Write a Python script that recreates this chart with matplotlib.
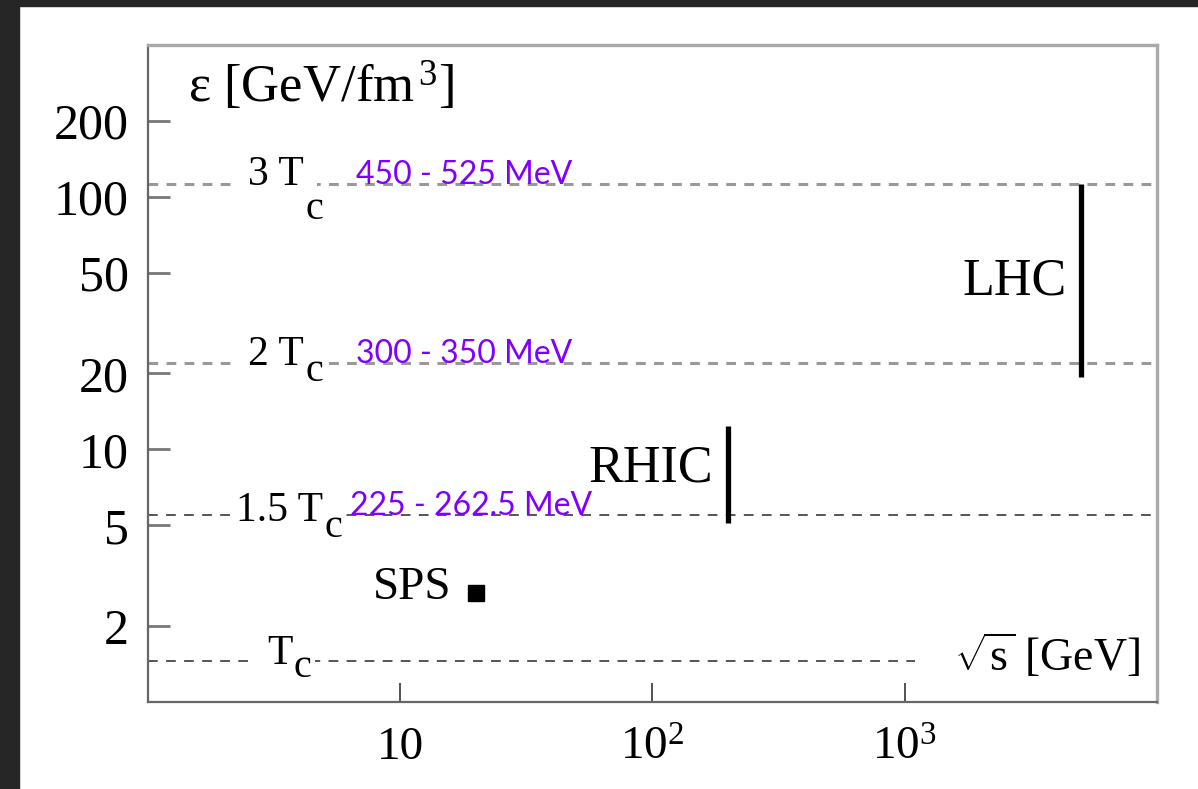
import matplotlib.pyplot as plt
from matplotlib.patches import Rectangle

# energy density thresholds in units of Tc
level_names = ['T', '1.5 T', '2 T', '3 T']
level_eps = [1.45, 5.5, 21.9, 113]
level_temps = ['', '225 - 262.5 MeV', '300 - 350 MeV', '450 - 525 MeV']
level_xmax = [1100, 1e4, 1e4, 1e4]

# colliders: sqrt(s) [GeV] and the reached energy density [GeV/fm^3]
sps_sqrts = 20
sps_eps = 2.7
rhic_sqrts = 200
rhic_eps = [5.1, 12.4]
lhc_sqrts = 5000
lhc_eps = [19.3, 113]

yticks = [2, 5, 10, 20, 50, 100, 200]
xticks = [10, 100, 1000]
xticklabels = ['10', '$10^2$', '$10^3$']

# where each "n T" label ends and the subscript c starts, and text nudges (pt)
label_x = [3.73, 4.95, 4.16, 4.16]
label_up = [5, 3, 6, 6]
sub_up = [-5, -9, -6, -19]
temp_x = [6.7, 6.3, 6.7, 6.7]

plt.rcParams['font.family'] = 'serif'
plt.rcParams['font.serif'] = ['Liberation Serif']
plt.rcParams['mathtext.fontset'] = 'custom'
plt.rcParams['mathtext.rm'] = 'Liberation Serif'
plt.rcParams['mathtext.it'] = 'Liberation Serif:italic'
plt.rcParams['lines.scale_dashes'] = False

fig = plt.figure(figsize=(11.98, 7.89), dpi=100)
ax = fig.add_axes([0.1235, 0.1106, 0.8423, 0.8324])
ax.set_xscale('log')
ax.set_yscale('log')
ax.set_xlim(1, 1e4)
ax.set_ylim(1, 400)

white = dict(facecolor='white', edgecolor='none', pad=3)

# dashed threshold lines with their labels
for i, (name, eps, temp, xmax) in enumerate(zip(level_names, level_eps, level_temps, level_xmax)):
    thick = eps > 10
    ax.hlines(eps, 1, xmax, colors='#999999' if thick else '#555555',
              linewidth=2.2 if thick else 1.4, linestyles=(0, (7, 6)), zorder=1)
    ax.annotate(name, (label_x[i], eps), xytext=(0, label_up[i]), textcoords='offset points',
                ha='right', va='center', fontsize=30, zorder=3,
                bbox=dict(facecolor='white', edgecolor='none', pad=9 if i != 1 else 1))
    ax.annotate('c', (label_x[i], eps), xytext=(1, sub_up[i]), textcoords='offset points',
                ha='left', va='center', fontsize=29, zorder=3, bbox=white)
    if temp:
        ax.text(temp_x[i], eps, temp, ha='left', va='baseline', color='#8000ff',
                fontsize=23, family='Lato', zorder=4)

# colliders
ax.plot([sps_sqrts], [sps_eps], 's', color='black', markersize=11)
ax.annotate('SPS', (sps_sqrts, sps_eps), xytext=(-18, 4), textcoords='offset points',
            ha='right', va='center', fontsize=34)
ax.vlines(rhic_sqrts, rhic_eps[0], rhic_eps[1], colors='black', linewidth=3.8)
ax.annotate('RHIC', (rhic_sqrts, 8.4), xytext=(-11, 0), textcoords='offset points',
            ha='right', va='center', fontsize=37.5)
ax.vlines(lhc_sqrts, lhc_eps[0], lhc_eps[1], colors='black', linewidth=3.8)
ax.annotate('LHC', (lhc_sqrts, 46.4), xytext=(-10, 0), textcoords='offset points',
            ha='right', va='center', fontsize=37.5)

# axis titles inside the frame
ax.text(0.04, 0.936, r'ε [GeV/fm$^{\,3}$]', transform=ax.transAxes,
        ha='left', va='center', fontsize=38)
ax.text(0.983, 0.068, r'$\sqrt{\mathrm{s}}$ [GeV]', transform=ax.transAxes,
        ha='right', va='center', fontsize=33)

ax.set_yticks(yticks)
ax.set_yticklabels([str(t) for t in yticks])
ax.set_xticks(xticks)
ax.set_xticklabels(xticklabels)
ax.minorticks_off()
ax.tick_params(axis='y', direction='in', length=16, width=2, color='#777777',
               labelsize=36, pad=14)
ax.tick_params(axis='x', direction='in', length=14, width=1.3, color='#444444',
               labelsize=34, pad=18)

for side in ['left', 'bottom']:
    ax.spines[side].set_color('#666666')
    ax.spines[side].set_linewidth(1.6)
for side in ['top', 'right']:
    ax.spines[side].set_color('#aaaaaa')
    ax.spines[side].set_linewidth(2.4)

# dark frame along the left and top edges
fig.add_artist(Rectangle((0, 0), 19 / 1198, 1, transform=fig.transFigure,
                         color='#262626', zorder=10))
fig.add_artist(Rectangle((0, 1 - 6 / 789), 1, 6 / 789, transform=fig.transFigure,
                         color='#262626', zorder=10))

fig.savefig('out.png', dpi=100)
